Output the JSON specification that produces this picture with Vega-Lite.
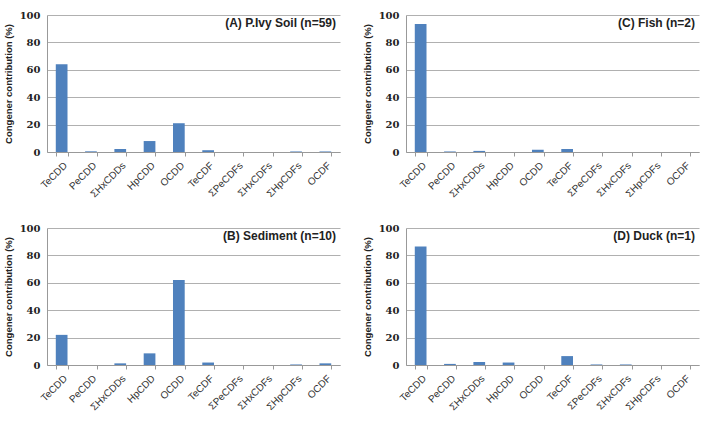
{
  "$schema": "https://vega.github.io/schema/vega-lite/v6.json",
  "background": "white",
  "padding": {"left": 3, "top": 10, "right": 4, "bottom": 0},
  "datasets": {
    "profiles": [
      {"panel": "A", "congener": "TeCDD", "value": 64},
      {"panel": "A", "congener": "PeCDD", "value": 0.5},
      {"panel": "A", "congener": "ΣHxCDDs", "value": 2.2},
      {"panel": "A", "congener": "HpCDD", "value": 8},
      {"panel": "A", "congener": "OCDD", "value": 21},
      {"panel": "A", "congener": "TeCDF", "value": 1.3},
      {"panel": "A", "congener": "ΣPeCDFs", "value": 0},
      {"panel": "A", "congener": "ΣHxCDFs", "value": 0},
      {"panel": "A", "congener": "ΣHpCDFs", "value": 0.4},
      {"panel": "A", "congener": "OCDF", "value": 0.4},
      {"panel": "C", "congener": "TeCDD", "value": 93.5},
      {"panel": "C", "congener": "PeCDD", "value": 0.4},
      {"panel": "C", "congener": "ΣHxCDDs", "value": 0.8},
      {"panel": "C", "congener": "HpCDD", "value": 0},
      {"panel": "C", "congener": "OCDD", "value": 1.7},
      {"panel": "C", "congener": "TeCDF", "value": 2.2},
      {"panel": "C", "congener": "ΣPeCDFs", "value": 0},
      {"panel": "C", "congener": "ΣHxCDFs", "value": 0},
      {"panel": "C", "congener": "ΣHpCDFs", "value": 0},
      {"panel": "C", "congener": "OCDF", "value": 0},
      {"panel": "B", "congener": "TeCDD", "value": 22},
      {"panel": "B", "congener": "PeCDD", "value": 0},
      {"panel": "B", "congener": "ΣHxCDDs", "value": 1.2},
      {"panel": "B", "congener": "HpCDD", "value": 8.5},
      {"panel": "B", "congener": "OCDD", "value": 62},
      {"panel": "B", "congener": "TeCDF", "value": 1.8},
      {"panel": "B", "congener": "ΣPeCDFs", "value": 0},
      {"panel": "B", "congener": "ΣHxCDFs", "value": 0},
      {"panel": "B", "congener": "ΣHpCDFs", "value": 0.4},
      {"panel": "B", "congener": "OCDF", "value": 1.2},
      {"panel": "D", "congener": "TeCDD", "value": 86.5},
      {"panel": "D", "congener": "PeCDD", "value": 0.8},
      {"panel": "D", "congener": "ΣHxCDDs", "value": 2.2},
      {"panel": "D", "congener": "HpCDD", "value": 1.8},
      {"panel": "D", "congener": "OCDD", "value": 0},
      {"panel": "D", "congener": "TeCDF", "value": 6.5},
      {"panel": "D", "congener": "ΣPeCDFs", "value": 0.4},
      {"panel": "D", "congener": "ΣHxCDFs", "value": 0.4},
      {"panel": "D", "congener": "ΣHpCDFs", "value": 0},
      {"panel": "D", "congener": "OCDF", "value": 0}
    ]
  },
  "columns": 2,
  "spacing": {"row": 24, "column": 22},
  "config": {
    "view": {"stroke": null},
    "bar": {"color": "#4f81bd"},
    "title": {
      "anchor": "end",
      "frame": "group",
      "font": "Liberation Sans",
      "fontSize": 12,
      "fontWeight": "bold",
      "color": "#222222",
      "offset": 0,
      "dy": 24,
      "dx": -4
    },
    "axis": {
      "gridColor": "#b0b0b0",
      "gridOpacity": 1,
      "gridWidth": 1
    },
    "axisX": {
      "labelAngle": -45,
      "labelFont": "Liberation Sans",
      "labelFontSize": 10,
      "labelColor": "#333333",
      "labelPadding": 4,
      "tickBand": "extent",
      "tickSize": 4,
      "tickColor": "#999999",
      "domainColor": "#999999",
      "title": null,
      "grid": false
    },
    "axisY": {
      "grid": true,
      "ticks": false,
      "labelFont": "DejaVu Serif",
      "labelFontSize": 10,
      "labelFontWeight": "bold",
      "labelColor": "#222222",
      "labelPadding": 7,
      "domainColor": "#999999",
      "titleFont": "Liberation Sans",
      "titleFontSize": 9.5,
      "titleFontWeight": "bold",
      "titleColor": "#222222",
      "titlePadding": 6
    }
  },
  "concat": [
    {
      "title": "(A) P.Ivy Soil (n=59)",
      "width": 293, "height": 137,
      "data": {"name": "profiles"},
      "transform": [{"filter": "datum.panel === 'A'"}],
      "mark": "bar",
      "encoding": {
        "x": {"field": "congener", "type": "nominal", "sort": ["TeCDD", "PeCDD", "ΣHxCDDs", "HpCDD", "OCDD", "TeCDF", "ΣPeCDFs", "ΣHxCDFs", "ΣHpCDFs", "OCDF"], "scale": {"paddingInner": 0.6, "paddingOuter": 0.3}},
        "y": {"field": "value", "type": "quantitative", "title": "Congener contribution (%)", "scale": {"domain": [0, 100]}, "axis": {"values": [0, 20, 40, 60, 80, 100], "grid": true}}
      }
    },
    {
      "title": "(C) Fish (n=2)",
      "width": 293, "height": 137,
      "data": {"name": "profiles"},
      "transform": [{"filter": "datum.panel === 'C'"}],
      "mark": "bar",
      "encoding": {
        "x": {"field": "congener", "type": "nominal", "sort": ["TeCDD", "PeCDD", "ΣHxCDDs", "HpCDD", "OCDD", "TeCDF", "ΣPeCDFs", "ΣHxCDFs", "ΣHpCDFs", "OCDF"], "scale": {"paddingInner": 0.6, "paddingOuter": 0.3}},
        "y": {"field": "value", "type": "quantitative", "title": "Congener contribution (%)", "scale": {"domain": [0, 100]}, "axis": {"values": [0, 20, 40, 60, 80, 100], "grid": true}}
      }
    },
    {
      "title": "(B) Sediment (n=10)",
      "width": 293, "height": 137,
      "data": {"name": "profiles"},
      "transform": [{"filter": "datum.panel === 'B'"}],
      "mark": "bar",
      "encoding": {
        "x": {"field": "congener", "type": "nominal", "sort": ["TeCDD", "PeCDD", "ΣHxCDDs", "HpCDD", "OCDD", "TeCDF", "ΣPeCDFs", "ΣHxCDFs", "ΣHpCDFs", "OCDF"], "scale": {"paddingInner": 0.6, "paddingOuter": 0.3}},
        "y": {"field": "value", "type": "quantitative", "title": "Congener contribution (%)", "scale": {"domain": [0, 100]}, "axis": {"values": [0, 20, 40, 60, 80, 100], "grid": true}}
      }
    },
    {
      "title": "(D) Duck (n=1)",
      "width": 293, "height": 137,
      "data": {"name": "profiles"},
      "transform": [{"filter": "datum.panel === 'D'"}],
      "mark": "bar",
      "encoding": {
        "x": {"field": "congener", "type": "nominal", "sort": ["TeCDD", "PeCDD", "ΣHxCDDs", "HpCDD", "OCDD", "TeCDF", "ΣPeCDFs", "ΣHxCDFs", "ΣHpCDFs", "OCDF"], "scale": {"paddingInner": 0.6, "paddingOuter": 0.3}},
        "y": {"field": "value", "type": "quantitative", "title": "Congener contribution (%)", "scale": {"domain": [0, 100]}, "axis": {"values": [0, 20, 40, 60, 80, 100], "grid": true}}
      }
    }
  ]
}
